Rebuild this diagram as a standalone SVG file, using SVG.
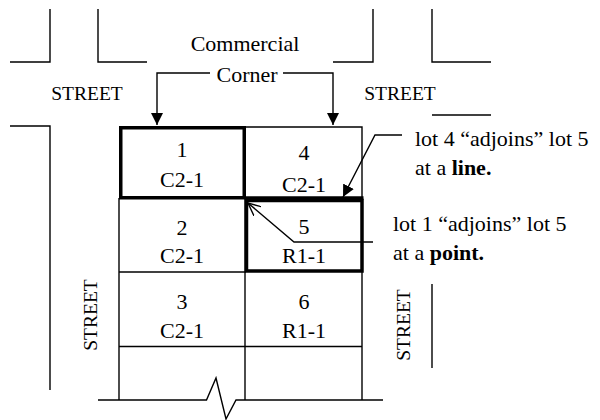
<svg xmlns="http://www.w3.org/2000/svg" width="600" height="420" viewBox="0 0 600 420">
<style>
text{font-family:"Liberation Serif","Times New Roman",serif;fill:#000}
.t{font-size:22px;text-anchor:middle}
.s{font-size:19.5px;text-anchor:middle}
.l{font-size:22px}
.b{font-weight:bold}
.thin{fill:none;stroke:#000;stroke-width:1.4}
.thick{fill:none;stroke:#000;stroke-width:3.5}
</style>
<defs>
<marker id="fa" viewBox="0 0 12 12" refX="12" refY="6" markerWidth="12" markerHeight="12" markerUnits="userSpaceOnUse" orient="auto">
<path d="M0,0 L12,6 L0,12 Z" fill="#000"/>
</marker>
<marker id="oa" viewBox="0 0 14 12" refX="13" refY="6" markerWidth="14" markerHeight="12" markerUnits="userSpaceOnUse" orient="auto">
<path d="M0,0 L13,6 L0,12" fill="none" stroke="#000" stroke-width="1.4"/>
</marker>
</defs>
<g id="streets" class="thin">
<path d="M50,9 V62 H10"/>
<path d="M98,9 V62 H147"/>
<path d="M373,9 V62 H333"/>
<path d="M432,9 V62 H491"/>
<path d="M432,115 H491"/>
<path d="M10,126 H50 V390"/>
<path d="M432,284 V368"/>
<path d="M98,400 H206.5 L216,378 L226,419 L236,400 H383"/>
</g>
<g id="street-labels">
<text class="s" x="87" y="100">STREET</text>
<text class="s" x="400" y="100">STREET</text>
<text class="s" transform="translate(97,315) rotate(-90)">STREET</text>
<text class="s" transform="translate(410,325) rotate(-90)">STREET</text>
</g>
<g id="grid" class="thin">
<path d="M119,198 V400"/>
<path d="M245,272 V400"/>
<path d="M362,272 V400"/>
<path d="M119,272 H246"/>
<path d="M119,346.5 H362"/>
<path d="M245,200 V272"/>
<path d="M245,127 H362 V198"/>
</g>
<g id="lot1">
<rect class="thick" x="120.75" y="127.75" width="123.5" height="70"/>
<text class="t" x="182" y="157">1</text>
<text class="t" x="182" y="187">C2-1</text>
</g>
<g id="lot4">
<path class="thick" d="M244,198 H363.5"/>
<text class="t" x="304" y="160">4</text>
<text class="t" x="304" y="192">C2-1</text>
</g>
<g id="lot2">
<text class="t" x="182" y="235">2</text>
<text class="t" x="182" y="263">C2-1</text>
</g>
<g id="lot5">
<rect class="thick" x="246.5" y="200.5" width="115.5" height="70.5"/>
<text class="t" x="304" y="234">5</text>
<text class="t" x="304" y="263">R1-1</text>
</g>
<g id="lot3">
<text class="t" x="182" y="309">3</text>
<text class="t" x="182" y="338">C2-1</text>
</g>
<g id="lot6">
<text class="t" x="304" y="309">6</text>
<text class="t" x="304" y="338">R1-1</text>
</g>
<g id="corner-label">
<text class="t" x="245" y="51">Commercial</text>
<text class="t" x="247" y="82">Corner</text>
</g>
<g id="line-label">
<text class="l" x="415" y="146">lot 4 “adjoins” lot 5</text>
<text class="l" x="415" y="175">at a <tspan class="b">line.</tspan></text>
</g>
<g id="point-label">
<text class="l" x="393" y="231">lot 1 “adjoins” lot 5</text>
<text class="l" x="393" y="260">at a <tspan class="b">point.</tspan></text>
</g>
<g id="connectors" class="thin">
<path d="M210,73 H157 V125" marker-end="url(#fa)"/>
<path d="M283,73 H333 V125" marker-end="url(#fa)"/>
<path d="M402,135 H375 L343,197" marker-end="url(#fa)"/>
<path d="M373,242 H294 L248,203" marker-end="url(#oa)"/>
</g>
</svg>
